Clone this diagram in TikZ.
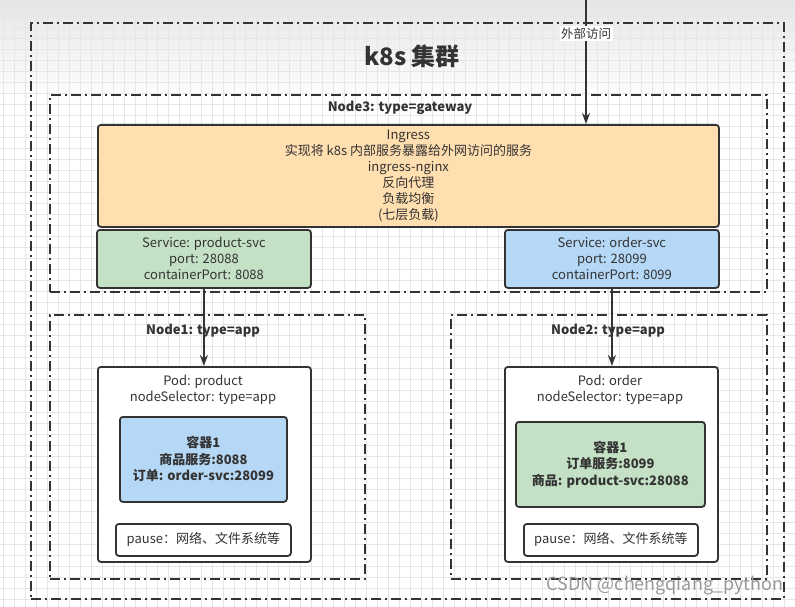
\documentclass[tikz,border=0pt]{standalone}
\usepackage{fontspec}
\setmainfont{Noto Sans CJK SC}
\usetikzlibrary{arrows.meta,positioning}
\definecolor{edge}{HTML}{333333}
\definecolor{peach}{HTML}{FFDEAF}
\definecolor{mint}{HTML}{C4E1C6}
\definecolor{sky}{HTML}{B5D8F6}
\definecolor{gridc}{HTML}{E6E6E6}

\begin{document}
\begin{tikzpicture}[x=1pt,y=-1pt,>={Stealth[length=11pt,width=8pt]},
  every node/.style={font=\fontsize{13}{16}\selectfont,text=edge,align=center},
  zone/.style={draw=edge,line width=1.8pt,dash pattern=on 10pt off 4pt on 2pt off 4pt,anchor=north west,inner sep=0pt},
  box/.style={draw=edge,line width=1.8pt,rounded corners=3pt,anchor=north west,inner sep=0pt},
  title/.style={font=\fontsize{13}{15}\selectfont\bfseries},
  link/.style={->,draw=edge,line width=1.8pt},
  gridline/.style={draw=gridc,line width=0.7pt}]
  \useasboundingbox (0,0) rectangle (795,607);
  \fill[white] (0,0) rectangle (795,607);
  \shade[top color=black!10,bottom color=white] (0,0) rectangle (795,100);
  \foreach \gx in {3,14,...,795} \draw[gridline] (\gx,0) -- (\gx,607);
  \foreach \gy in {5,16,...,607} \draw[gridline] (0,\gy) -- (795,\gy);

  % zones
  \node[zone,minimum width=753pt,minimum height=576pt] (cluster) at (30,22) {};
  \node[font=\fontsize{24}{26}\selectfont\bfseries] (clustertitle) at (412,56) {k8s 集群};
  \node[zone,minimum width=717pt,minimum height=197pt] (node3) at (49,94) {};
  \node[title] (node3title) at (400,108) {Node3: type=gateway};
  \node[zone,minimum width=315pt,minimum height=264pt] (node1) at (49,314) {};
  \node[title] (node1title) at (203,331) {Node1: type=app};
  \node[zone,minimum width=316pt,minimum height=264pt] (node2) at (450,314) {};
  \node[title] (node2title) at (608,331) {Node2: type=app};

  % gateway
  \node[box,fill=peach,minimum width=621pt,minimum height=102pt] (ingress) at (97,124)
    {Ingress\\实现将 k8s 内部服务暴露给外网访问的服务\\ingress-nginx\\反向代理\\负载均衡\\(七层负载)};
  \node[box,fill=mint,minimum width=214pt,minimum height=58pt] (svcp) at (96,229)
    {Service: product-svc\\port: 28088\\containerPort: 8088};
  \node[box,fill=sky,minimum width=214pt,minimum height=58pt] (svco) at (504,229)
    {Service: order-svc\\port: 28099\\containerPort: 8099};

  % pods
  \node[box,fill=white,minimum width=213pt,minimum height=195pt] (podp) at (97,366) {};
  \node (podptext) at (203,390) {Pod: product\\nodeSelector: type=app};
  \node[box,fill=sky,minimum width=167pt,minimum height=85pt,font=\fontsize{13}{16.5}\selectfont\bfseries] (ctrp) at (119,416)
    {容器1\\商品服务:8088\\订单: order-svc:28099};
  \node[box,fill=white,minimum width=175pt,minimum height=32pt] (pausep) at (115,523) {pause：网络、文件系统等};

  \node[box,fill=white,minimum width=213pt,minimum height=195pt] (podo) at (504,366) {};
  \node (podotext) at (610,390) {Pod: order\\nodeSelector: type=app};
  \node[box,fill=mint,minimum width=189pt,minimum height=85pt,font=\fontsize{13}{16.5}\selectfont\bfseries] (ctro) at (515,421)
    {容器1\\订单服务:8099\\商品: product-svc:28088};
  \node[box,fill=white,minimum width=174pt,minimum height=32pt] (pauseo) at (523,523) {pause：网络、文件系统等};

  % links
  \coordinate (ext) at (586,0);
  \draw[link] (ext) -- node[pos=0.27,fill=white,inner sep=1.5pt,font=\fontsize{12.5}{14}\selectfont] (extlabel) {外部访问} (ext |- ingress.north);
  \draw[link] (svcp.south) -- (svcp.south |- podp.north);
  \draw[link] (svco.south) -- (svco.south |- podo.north);

  \node[text=black!40,font=\fontsize{18}{20}\selectfont] (mark) at (665,586) {CSDN @chengqiang\_python};
\end{tikzpicture}
\end{document}
